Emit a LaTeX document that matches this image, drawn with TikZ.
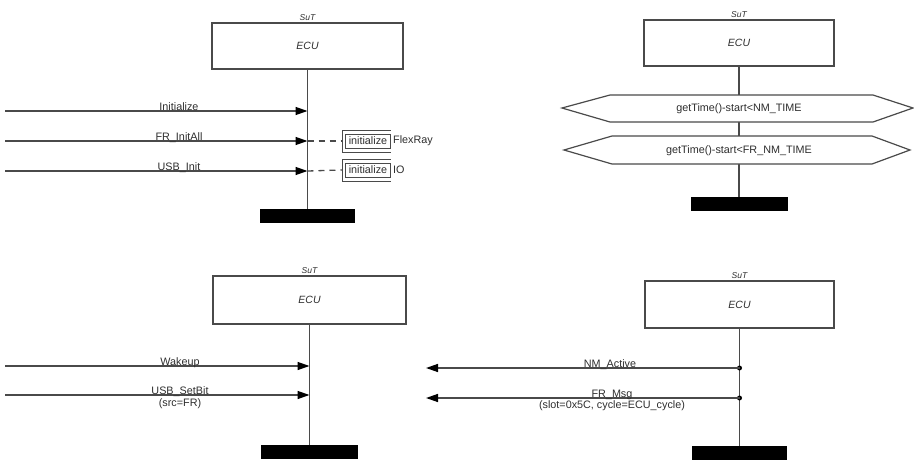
\documentclass[tikz,border=0pt]{standalone}
\usepackage{fontspec}
\setmainfont{Liberation Sans}
\usetikzlibrary{arrows.meta}
\definecolor{lc}{HTML}{4A4A4A}
\definecolor{tc}{HTML}{2E2E2E}
\begin{document}
\begin{tikzpicture}[x=1pt,y=-1pt,
  ecubox/.style={draw=lc, line width=1.2pt, minimum width=#1, minimum height=46pt, inner sep=0pt,
    font=\fontsize{10.5}{11}\selectfont\itshape, text=tc},
  ecubox/.default=190pt,
  sut/.style={font=\fontsize{8.5}{9}\selectfont\itshape, text=tc, inner sep=0pt, anchor=south},
  barbox/.style={fill=black, draw=black, minimum width=94pt, minimum height=13pt, inner sep=0pt},
  lifeline/.style={draw=lc, line width=1.4pt},
  msg/.style={draw=lc, line width=1.4pt, -{Triangle[length=12pt,width=8pt,fill=black,color=black]}},
  lbl/.style={font=\fontsize{10.8}{12}\selectfont, text=tc, inner sep=0pt},
  hexline/.style={draw=lc, line width=1.2pt, fill=white},
  note/.style={draw=lc, line width=0.9pt, font=\fontsize{10.8}{12}\selectfont, text=tc, inner sep=1pt, minimum height=14pt},
  dashline/.style={draw=lc, line width=1.3pt, dash pattern=on 6pt off 5pt},
  dot/.style={circle, fill=black, inner sep=0pt, minimum size=5pt}
]
\useasboundingbox (0,0) rectangle (914,461);

% ---------- panel 1 (top left) ----------
\node[ecubox=191pt] (e1) at (307.5,46) {ECU};
\node[sut] (s1) at ([yshift=2pt]e1.north) {SuT};
\node[barbox] (b1) at (307.5,216) {};
\draw[lifeline] (e1.south) -- (b1.north);
\coordinate (p1a) at (5,111);   \coordinate (q1a) at (307.5,111);
\coordinate (p1b) at (5,141);   \coordinate (q1b) at (307.5,141);
\coordinate (p1c) at (5,171);   \coordinate (q1c) at (307.5,171);
\draw[msg] (p1a) -- (q1a);
\draw[msg] (p1b) -- (q1b);
\draw[msg] (p1c) -- (q1c);
\node[lbl, anchor=base] (l1a) at (179,110) {Initialize};
\node[lbl, anchor=base] (l1b) at (179,140) {FR\_InitAll};
\node[lbl, anchor=base] (l1c) at (179,170) {USB\_Init};
% notes
\node[note, minimum width=45pt] (n1) at (368,141) {initialize};
\node[lbl, anchor=west] (n1t) at ([xshift=2pt]n1.east) {FlexRay};
\coordinate (k1) at (342,141);
\draw[draw=lc, line width=0.9pt] (n1.east |- 0,130) -- (342,130) -- (342,152) -- (n1.east |- 0,152);
\draw[dashline] (q1b) -- (k1);
\node[note, minimum width=45pt] (n2) at (368,170) {initialize};
\node[lbl, anchor=west] (n2t) at ([xshift=2pt]n2.east) {IO};
\coordinate (k2) at (342,170);
\draw[draw=lc, line width=0.9pt] (n2.east |- 0,159) -- (342,159) -- (342,181) -- (n2.east |- 0,181);
\draw[dashline] (q1c) -- (k2);

% ---------- panel 2 (top right) ----------
\node[ecubox=190pt] (e2) at (739,43) {ECU};
\node[sut] (s2) at ([yshift=2pt]e2.north) {SuT};
\node[barbox, minimum width=96pt] (b2) at (739,203.5) {};
\draw[lifeline] (e2.south) -- (b2.north);
\draw[hexline] (562,108) -- (610,95) -- (873,95) -- (913,108) -- (873,122) -- (610,122) -- cycle;
\node[lbl] (h1) at (739,108.5) {getTime()-start<NM\_TIME};
\draw[hexline] (564,150) -- (612,136) -- (872,136) -- (910,150) -- (872,164) -- (612,164) -- cycle;
\node[lbl] (h2) at (739,150.5) {getTime()-start<FR\_NM\_TIME};

% ---------- panel 3 (bottom left) ----------
\node[ecubox=193pt, minimum height=48pt] (e3) at (309.5,300) {ECU};
\node[sut] (s3) at ([yshift=2pt]e3.north) {SuT};
\node[barbox, minimum width=96pt] (b3) at (309.5,452) {};
\draw[lifeline] (e3.south) -- (b3.north);
\coordinate (p3a) at (5,366);   \coordinate (q3a) at (309.5,366);
\coordinate (p3b) at (5,395);   \coordinate (q3b) at (309.5,395);
\draw[msg] (p3a) -- (q3a);
\draw[msg] (p3b) -- (q3b);
\node[lbl, anchor=base] (l3a) at (180,365) {Wakeup};
\node[lbl, anchor=base] (l3b) at (180,394) {USB\_SetBit};
\node[lbl, anchor=north] (l3c) at (180,398) {(src=FR)};

% ---------- panel 4 (bottom right) ----------
\node[ecubox=189pt, minimum height=47pt] (e4) at (739.5,304.5) {ECU};
\node[sut] (s4) at ([yshift=2pt]e4.north) {SuT};
\node[barbox] (b4) at (739.5,453) {};
\draw[lifeline] (e4.south) -- (b4.north);
\node[dot] (d4a) at (739.5,368) {};
\node[dot] (d4b) at (739.5,398) {};
\coordinate (p4a) at (426,368);
\coordinate (p4b) at (426,398);
\draw[msg] (d4a.center) -- (p4a);
\draw[msg] (d4b.center) -- (p4b);
\node[lbl, anchor=base] (l4a) at (610,367) {NM\_Active};
\node[lbl, anchor=base] (l4b) at (612,397) {FR\_Msg};
\node[lbl, anchor=north] (l4c) at (612,400) {(slot=0x5C, cycle=ECU\_cycle)};
\end{tikzpicture}
\end{document}
